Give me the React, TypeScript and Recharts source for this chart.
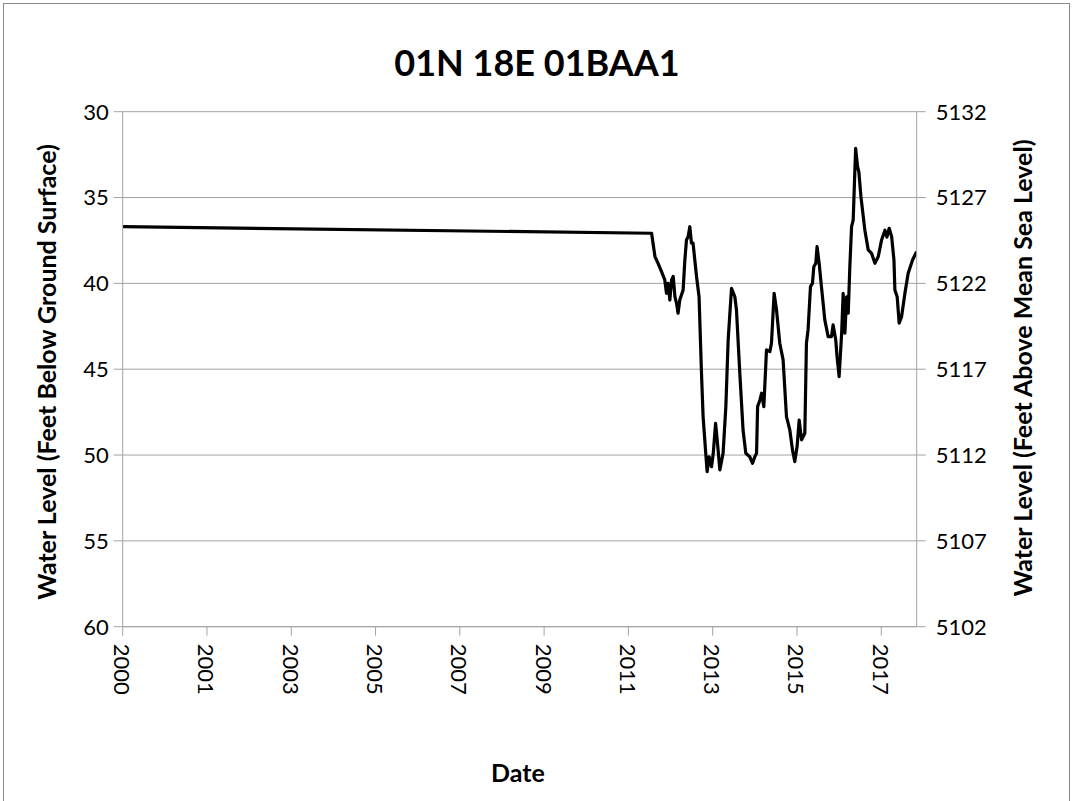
import React from "react";
import { LineChart, Line, XAxis, YAxis, CartesianGrid } from "recharts";

const TITLE = "01N 18E 01BAA1";
const LEFT_TITLE = "Water Level (Feet Below Ground Surface)";
const RIGHT_TITLE = "Water Level (Feet Above Mean Sea Level)";
const X_TITLE = "Date";

// measurement dates
const dates: string[] = [
  "2000-01-01", "2012-07-17", "2012-08-15", "2012-09-11", "2012-10-11", "2012-11-08",
  "2012-11-23", "2012-12-07", "2012-12-22", "2013-01-06", "2013-01-20", "2013-02-04",
  "2013-02-18", "2013-03-03", "2013-03-18", "2013-04-16", "2013-05-01", "2013-05-15",
  "2013-05-29", "2013-06-13", "2013-06-27", "2013-07-11", "2013-08-10", "2013-09-01",
  "2013-09-22", "2013-10-06", "2013-10-29", "2013-11-10", "2013-11-27", "2013-12-18",
  "2014-01-02", "2014-01-22", "2014-02-05", "2014-02-28", "2014-03-28", "2014-04-21",
  "2014-05-11", "2014-06-09", "2014-07-08", "2014-07-22", "2014-08-20", "2014-09-17",
  "2014-10-11", "2014-11-14", "2014-12-08", "2014-12-28", "2015-01-12", "2015-01-21",
  "2015-02-10", "2015-02-25", "2015-03-16", "2015-04-08", "2015-05-07", "2015-05-21",
  "2015-06-13", "2015-07-04", "2015-08-01", "2015-08-30", "2015-09-28", "2015-10-27",
  "2015-11-19", "2015-12-09", "2015-12-29", "2016-01-16", "2016-02-06", "2016-03-05",
  "2016-03-19", "2016-04-02", "2016-04-23", "2016-05-10", "2016-05-22", "2016-06-08",
  "2016-06-19", "2016-07-07", "2016-07-27", "2016-08-25", "2016-09-23", "2016-10-22",
  "2016-11-05", "2016-11-28", "2016-12-09", "2016-12-27", "2017-01-18", "2017-01-31",
  "2017-02-15", "2017-03-02", "2017-03-16", "2017-03-30", "2017-04-14", "2017-04-28",
  "2017-05-19", "2017-06-05", "2017-06-16", "2017-07-04", "2017-08-07", "2017-09-05",
  "2017-10-04", "2017-11-02", "2017-12-01", "2017-12-30", "2018-01-28", "2018-02-14",
  "2018-03-06", "2018-03-27", "2018-04-16", "2018-04-24", "2018-05-14", "2018-05-31",
  "2018-06-21", "2018-07-20", "2018-08-17", "2018-09-24", "2018-10-29",
];

// depth to water, feet below ground surface
const depthBelowGround: number[] = [
  36.7, 37.08, 38.44, 38.83, 39.32, 39.8,
  40.58, 40.0, 40.97, 39.8, 39.6, 40.78,
  41.16, 41.74, 40.97, 40.38, 38.64, 37.47,
  37.28, 36.7, 37.66, 37.66, 39.6, 40.78,
  45.24, 47.76, 49.9, 50.97, 50.1, 50.68,
  49.9, 48.15, 49.12, 50.87, 49.9, 47.18,
  43.3, 40.29, 40.78, 41.55, 45.24, 48.54,
  49.9, 50.1, 50.48, 50.1, 49.9, 47.18,
  46.79, 46.4, 47.18, 43.88, 43.98, 43.49,
  40.58, 41.55, 43.49, 44.46, 47.76, 48.54,
  49.7, 50.38, 49.51, 47.96, 49.12, 48.73,
  43.49, 42.71, 40.19, 40.0, 39.03, 38.83,
  37.86, 38.83, 40.19, 42.13, 43.1, 43.1,
  42.42, 43.3, 44.27, 45.43, 42.9, 40.58,
  42.9, 40.78, 41.74, 39.0, 36.7, 36.3,
  32.13, 33.2, 33.5, 34.95, 36.9, 38.05,
  38.25, 38.83, 38.44, 37.47, 36.9, 37.3,
  36.79, 37.28, 38.64, 40.38, 40.78, 42.32,
  41.94, 40.58, 39.41, 38.64, 38.15,
];

const LAND_SURFACE_ELEV = 5162;
const leftTicks: number[] = [30, 35, 40, 45, 50, 55, 60];
const rightTicks: number[] = [5102, 5107, 5112, 5117, 5122, 5127, 5132];
// Excel date-axis major unit of 730 days starting 2000-01-01
const xTickDays: number[] = [0, 730, 1460, 2190, 2920, 3650, 4380, 5110, 5840, 6570];
const X_MAX_DAY = 6877;

const START = Date.UTC(2000, 0, 1);
const DAY = 86400000;
const toDay = (s: string) => (Date.parse(s + "T00:00:00Z") - START) / DAY;

const data = dates.map((d, i) => ({
  day: toDay(d),
  depth: depthBelowGround[i],
  elev: LAND_SURFACE_ELEV - depthBelowGround[i],
}));

const FONT = "Lato, 'Open Sans', sans-serif";
const GRID = "#a3a3a3";

const XTick = (props: any) => {
  const { x, y, payload } = props;
  const year = new Date(START + payload.value * DAY).getUTCFullYear();
  return (
    <text
      transform={`translate(${x},${y + 6}) rotate(90)`}
      textAnchor="start"
      dominantBaseline="central"
      fontSize={22}
      fontFamily={FONT}
      fill="#000"
    >
      {year}
    </text>
  );
};

export default function App() {
  return (
    <div
      style={{
        position: "absolute",
        left: 0,
        top: 0,
        width: 1074,
        height: 801,
        overflow: "hidden",
        background: "#fff",
      }}
    >
      <div
        style={{
          position: "absolute",
          left: 3,
          top: 3,
          width: 1067,
          height: 820,
          border: "1px solid #8a8a8a",
          boxSizing: "border-box",
        }}
      />
      <div style={{ position: "absolute", left: 0, top: 0 }}>
        <LineChart
          width={1074}
          height={801}
          data={data}
          margin={{ top: 111.7, left: 62.7, right: 97.3, bottom: 114.3 }}
        >
          <CartesianGrid
            vertical={false}
            stroke={GRID}
            strokeWidth={1}
            yAxisId="left"
          />
          <XAxis
            dataKey="day"
            type="number"
            domain={[0, X_MAX_DAY]}
            ticks={xTickDays}
            allowDataOverflow
            height={60}
            tickSize={9}
            tickMargin={2}
            stroke={GRID}
            tick={<XTick />}
            interval={0}
          />
          <YAxis
            yAxisId="left"
            orientation="left"
            reversed
            type="number"
            domain={[30, 60]}
            ticks={leftTicks}
            allowDataOverflow
            width={60}
            tickSize={9}
            tickMargin={5}
            stroke={GRID}
            interval={0}
            tick={{ fill: "#000", fontSize: 22, fontFamily: FONT }}
          />
          <YAxis
            yAxisId="right"
            orientation="right"
            type="number"
            domain={[5102, 5132]}
            ticks={rightTicks}
            allowDataOverflow
            width={60}
            tickSize={9}
            tickMargin={10}
            stroke={GRID}
            interval={0}
            tick={{ fill: "#000", fontSize: 22, fontFamily: FONT, textAnchor: "start" }}
          />
          <Line
            yAxisId="right"
            dataKey="elev"
            stroke="none"
            dot={false}
            activeDot={false}
            isAnimationActive={false}
          />
          <Line
            yAxisId="left"
            dataKey="depth"
            type="linear"
            stroke="#000"
            strokeWidth={3.2}
            strokeLinejoin="round"
            dot={false}
            activeDot={false}
            isAnimationActive={false}
          />
        </LineChart>
      </div>
      <svg
        width={1074}
        height={801}
        style={{ position: "absolute", left: 0, top: 0, pointerEvents: "none" }}
      >
        <text x={537} y={76} textAnchor="middle" fontSize={36} fontWeight="bold" fontFamily={FONT} fill="#000">
          {TITLE}
        </text>
        <text x={518} y={782} textAnchor="middle" fontSize={25} fontWeight="bold" fontFamily={FONT} fill="#000">
          {X_TITLE}
        </text>
        <text
          transform="translate(46,372) rotate(-90)"
          textAnchor="middle"
          dominantBaseline="central"
          fontSize={25}
          fontWeight="bold"
          fontFamily={FONT}
          fill="#000"
        >
          {LEFT_TITLE}
        </text>
        <text
          transform="translate(1022,368) rotate(-90)"
          textAnchor="middle"
          dominantBaseline="central"
          fontSize={25}
          fontWeight="bold"
          fontFamily={FONT}
          fill="#000"
        >
          {RIGHT_TITLE}
        </text>
      </svg>
    </div>
  );
}
